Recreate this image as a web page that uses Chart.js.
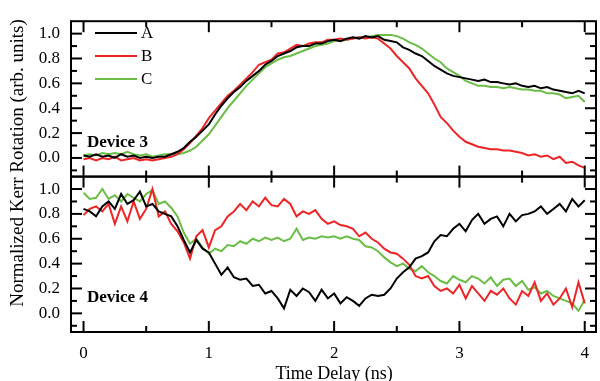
<!DOCTYPE html>
<html><head><meta charset="utf-8">
<script src="https://cdn.jsdelivr.net/npm/chart.js@4.4.0/dist/chart.umd.min.js"></script>
<style>html,body{margin:0;padding:0;background:#fff;}#wrap{width:600px;height:381px;position:relative;}</style>
</head><body><div id="wrap"><canvas id="c" width="600" height="381"></canvas></div>
<script>
const timeNs = [
0.00,0.05,0.10,0.15,0.20,0.25,0.30,0.35,0.40,0.45,
0.50,0.55,0.60,0.65,0.70,0.75,0.80,0.85,0.90,0.95,
1.00,1.05,1.10,1.15,1.20,1.25,1.30,1.35,1.40,1.45,
1.50,1.55,1.60,1.65,1.70,1.75,1.80,1.85,1.90,1.95,
2.00,2.05,2.10,2.15,2.20,2.25,2.30,2.35,2.40,2.45,
2.50,2.55,2.60,2.65,2.70,2.75,2.80,2.85,2.90,2.95,
3.00,3.05,3.10,3.15,3.20,3.25,3.30,3.35,3.40,3.45,
3.50,3.55,3.60,3.65,3.70,3.75,3.80,3.85,3.90,3.95,
4.00];
const seriesNames = ['A','B','C'];
const device3A = [
0.02,0.01,0.03,0.01,0.02,0.00,0.03,0.01,0.02,0.00,
0.01,0.00,0.01,0.01,0.03,0.05,0.08,0.13,0.17,0.22,
0.27,0.35,0.42,0.48,0.53,0.57,0.62,0.66,0.70,0.75,
0.78,0.82,0.84,0.86,0.89,0.90,0.90,0.92,0.92,0.94,
0.95,0.94,0.96,0.97,0.96,0.98,0.97,0.98,0.95,0.94,
0.93,0.89,0.87,0.84,0.82,0.78,0.74,0.71,0.68,0.66,
0.65,0.64,0.63,0.62,0.63,0.61,0.61,0.60,0.59,0.60,
0.58,0.57,0.58,0.56,0.57,0.55,0.54,0.53,0.52,0.54,
0.52];
const device3B = [
-0.01,0.00,-0.02,0.00,-0.01,0.01,-0.02,-0.01,0.00,-0.02,
-0.01,-0.02,-0.01,0.00,0.01,0.03,0.07,0.12,0.18,0.24,
0.32,0.38,0.44,0.50,0.54,0.59,0.64,0.69,0.75,0.77,
0.79,0.84,0.85,0.88,0.91,0.90,0.92,0.93,0.93,0.95,
0.95,0.96,0.95,0.96,0.97,0.96,0.97,0.96,0.92,0.88,
0.82,0.77,0.72,0.64,0.58,0.52,0.43,0.33,0.28,0.22,
0.17,0.13,0.11,0.09,0.08,0.07,0.07,0.06,0.06,0.05,
0.04,0.02,0.03,0.01,0.02,-0.01,0.01,-0.04,-0.03,-0.06,
-0.08];
const device3C = [
0.02,0.03,0.02,0.04,0.03,0.04,0.03,0.05,0.03,0.02,
0.03,0.01,0.02,0.03,0.03,0.03,0.04,0.06,0.09,0.14,
0.19,0.26,0.33,0.40,0.46,0.52,0.58,0.63,0.68,0.73,
0.76,0.79,0.81,0.82,0.84,0.86,0.88,0.90,0.91,0.92,
0.94,0.94,0.95,0.96,0.97,0.97,0.98,0.99,0.99,0.99,
0.98,0.96,0.93,0.91,0.88,0.84,0.80,0.77,0.72,0.69,
0.66,0.62,0.60,0.58,0.58,0.57,0.57,0.56,0.57,0.56,
0.55,0.55,0.54,0.54,0.52,0.52,0.51,0.48,0.49,0.50,
0.45];
const device4A = [
0.84,0.82,0.78,0.86,0.90,0.84,0.96,0.88,0.91,0.98,
0.86,0.88,0.82,0.80,0.78,0.70,0.59,0.49,0.59,0.52,
0.49,0.40,0.31,0.37,0.29,0.27,0.28,0.22,0.23,0.16,
0.18,0.12,0.04,0.19,0.14,0.20,0.17,0.10,0.19,0.12,
0.16,0.08,0.13,0.10,0.06,0.12,0.15,0.14,0.15,0.20,
0.28,0.33,0.37,0.44,0.46,0.49,0.58,0.63,0.62,0.68,
0.72,0.66,0.75,0.80,0.72,0.76,0.78,0.70,0.80,0.74,
0.79,0.80,0.82,0.86,0.80,0.84,0.88,0.82,0.92,0.86,
0.91];
const device4B = [
0.79,0.84,0.86,0.82,0.88,0.72,0.86,0.74,0.90,0.76,
0.84,1.00,0.78,0.82,0.72,0.66,0.57,0.44,0.62,0.67,
0.53,0.67,0.70,0.78,0.82,0.88,0.83,0.90,0.86,0.93,
0.87,0.86,0.92,0.88,0.78,0.82,0.80,0.83,0.76,0.72,
0.74,0.71,0.70,0.68,0.62,0.65,0.60,0.57,0.52,0.49,
0.48,0.44,0.39,0.30,0.28,0.30,0.22,0.18,0.20,0.16,
0.23,0.12,0.22,0.16,0.10,0.18,0.15,0.20,0.12,0.07,
0.18,0.14,0.25,0.10,0.16,0.07,0.12,0.20,0.05,0.25,
0.08];
const device4C = [
0.97,0.92,0.93,1.00,0.92,0.95,0.90,0.96,0.93,0.90,
0.96,0.99,0.88,0.90,0.85,0.78,0.65,0.56,0.60,0.53,
0.48,0.52,0.50,0.55,0.54,0.58,0.56,0.60,0.58,0.61,
0.59,0.61,0.58,0.60,0.68,0.59,0.61,0.60,0.62,0.61,
0.62,0.60,0.62,0.60,0.59,0.54,0.53,0.50,0.45,0.41,
0.38,0.40,0.36,0.34,0.38,0.33,0.30,0.26,0.24,0.30,
0.27,0.25,0.30,0.28,0.24,0.29,0.22,0.27,0.28,0.22,
0.26,0.19,0.21,0.16,0.18,0.14,0.12,0.10,0.08,0.02,
0.11];
const xTickLabels = [0,1,2,3,4];
const xMinorTicks = [0.5,1.5,2.5,3.5];
const yTickLabels = [0,0.2,0.4,0.6,0.8,1.0];
const yMinorTicks = [-0.1,0.1,0.3,0.5,0.7,0.9];
const panelNames = ['Device 3','Device 4'];

const colors = ['#000000','#ee2526','#6abd45'];
const FONT = "'Liberation Serif','Times New Roman',serif";
const pts = arr => timeNs.map((t,i)=>({x:t,y:arr[i]}));
const mk = (arr, k, axis) => ({label:seriesNames[k], data:pts(arr), borderColor:colors[k], backgroundColor:colors[k], yAxisID:axis, borderWidth:2, pointRadius:0, tension:0, fill:false});

const yAxis = (weight) => ({
  type:'linear', position:'left', stack:'panels', stackWeight:1, weight:weight,
  min:-0.15, max:1.1,
  afterBuildTicks: s => { s.ticks = yTickLabels.map(v=>({value:v})); },
  afterFit: s => { s.width = 71; },
  ticks:{font:{family:FONT,size:17}, color:'#000', padding:11, autoSkip:false, callback:v=>v.toFixed(1)},
  grid:{display:false, drawTicks:false}, border:{display:false}
});

const framePlugin = {
  id:'frameTicks',
  afterDraw(chart){
    const {ctx, chartArea:a} = chart;
    const x = chart.scales.x;
    ctx.save();
    ctx.strokeStyle='#000'; ctx.lineWidth=2; ctx.lineCap='butt';
    const line=(x1,y1,x2,y2)=>{ctx.beginPath();ctx.moveTo(x1,y1);ctx.lineTo(x2,y2);ctx.stroke();};
    ['y3','y4'].forEach((id,pi)=>{
      const y = chart.scales[id];
      const top=y.top, bot=y.bottom;
      ctx.strokeRect(a.left, top, a.right-a.left, bot-top);
      xTickLabels.forEach(v=>{const p=x.getPixelForValue(v); line(p,bot,p,bot-11); line(p,top,p,top+11);});
      xMinorTicks.forEach(v=>{const p=x.getPixelForValue(v); line(p,bot,p,bot-6); line(p,top,p,top+6);});
      yTickLabels.forEach(v=>{const p=y.getPixelForValue(v); line(a.left,p,a.left+11,p); line(a.right,p,a.right-11,p);});
      yMinorTicks.forEach(v=>{const p=y.getPixelForValue(v); line(a.left,p,a.left+6,p); line(a.right,p,a.right-6,p);});
      ctx.fillStyle='#000';
      ctx.font = "bold 17px "+FONT;
      ctx.textAlign='left'; ctx.textBaseline='alphabetic';
      ctx.fillText(panelNames[pi], a.left+16, bot-30);
    });
    const ds = chart.data.datasets.slice(0,3);
    ds.forEach((d,i)=>{
      const yy = 33 + i*23;
      ctx.strokeStyle=d.borderColor; ctx.lineWidth=2;
      line(95,yy,137,yy);
      ctx.fillStyle='#000'; ctx.font="17px "+FONT; ctx.textAlign='left'; ctx.textBaseline='middle';
      ctx.fillText(d.label, 141, yy+1);
    });
    ctx.fillStyle='#000';
    ctx.font="18px "+FONT; ctx.textAlign='center'; ctx.textBaseline='alphabetic';
    ctx.fillText('Time Delay (ns)', x.getPixelForValue(2), 379);
    ctx.save();
    ctx.translate(23, 163); ctx.rotate(-Math.PI/2);
    ctx.font="19px "+FONT; ctx.textAlign='center'; ctx.textBaseline='alphabetic';
    ctx.fillText('Normalized Kerr Rotation (arb. units)', 0, 0);
    ctx.restore();
    ctx.restore();
  }
};

new Chart(document.getElementById('c'), {
  type:'line',
  data:{datasets:[
    mk(device3A,0,'y3'), mk(device3B,1,'y3'), mk(device3C,2,'y3'),
    mk(device4A,0,'y4'), mk(device4B,1,'y4'), mk(device4C,2,'y4')
  ]},
  options:{
    responsive:false, animation:false, devicePixelRatio:1,
    layout:{padding:{left:0,right:1,top:12,bottom:0}},
    plugins:{legend:{display:false}, tooltip:{enabled:false}, title:{display:false}},
    scales:{
      x:{type:'linear', position:'bottom', min:-0.1, max:4.09,
        afterBuildTicks: s => { s.ticks = xTickLabels.map(v=>({value:v})); },
        afterFit: s => { s.height = 49; },
        ticks:{font:{family:FONT,size:17}, color:'#000', padding:11, maxRotation:0, autoSkip:false},
        grid:{display:false, drawTicks:false}, border:{display:false}},
      y3: yAxis(1),
      y4: yAxis(0)
    }
  },
  plugins:[framePlugin]
});
</script>
</body></html>
